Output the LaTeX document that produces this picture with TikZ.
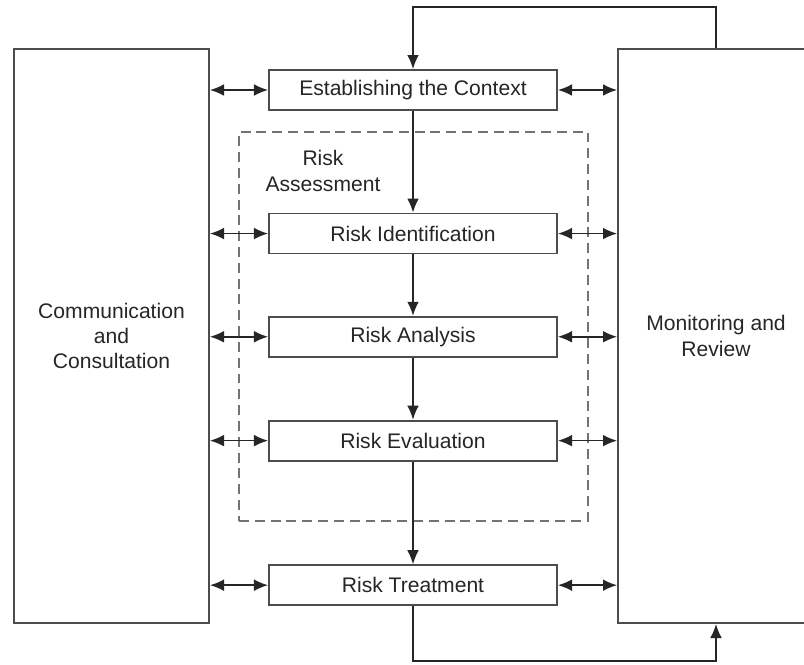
\documentclass[tikz,border=0pt]{standalone}
\usepackage{fontspec}
\setmainfont{Liberation Sans}
\usetikzlibrary{positioning,arrows.meta}

\begin{document}
\begin{tikzpicture}[
x=0.03cm, y=-0.03cm,
font=\fontsize{18pt}{21.6pt}\selectfont,
stage/.style={draw=black!70, line width=1.6pt, fill=white, text=black!85, align=center, minimum width=8.64cm, minimum height=1.2cm, inner sep=0pt},
side/.style={draw=black!70, line width=1.6pt, text=black!85, align=center, minimum height=17.22cm, inner sep=0pt},
arr/.style={-{Latex[length=12pt,width=10pt]}, line width=1.3pt, black!85},
dbl/.style={{Latex[length=12pt,width=10pt]}-{Latex[length=12pt,width=10pt]}, line width=1.3pt, black!85}
]
\useasboundingbox (0,0) rectangle (804,664);

% risk assessment frame
\node[draw=black!55, line width=1.4pt, dash pattern=on 8.5pt off 5pt, minimum width=10.47cm, minimum height=11.67cm, inner sep=0pt] (assess) at (413.5,326.5) {};
\node[text=black!85, align=center] (assesslbl) at (323,171) {Risk\\Assessment};

% process steps
\node[stage] (ctx) at (413,90) {Establishing the Context};
\node[stage, below=3.05cm of ctx] (ident) {Risk Identification};
\node[stage, below=1.84cm of ident] (anal) {Risk Analysis};
\node[stage, below=1.86cm of anal] (eval) {Risk Evaluation};
\node[stage, below=3.08cm of eval] (treat) {Risk Treatment};

% side boxes
\node[side, minimum width=5.85cm] (comm) at (111.5,336) {Communication\\and\\Consultation};
\node[side, minimum width=5.88cm] (mon) at (716,336) {Monitoring and\\Review};

\draw[arr] (ctx) -- (ident);
\draw[arr] (ident) -- (anal);
\draw[arr] (anal) -- (eval);
\draw[arr] (eval) -- (treat);

\foreach \s in {ctx,ident,anal,eval,treat} {
  \draw[dbl] (comm.east |- \s) -- (\s);
  \draw[dbl] (\s) -- (mon.west |- \s);
}

% feedback loops
\coordinate (looptop) at (716,7);
\coordinate (loopbot) at (716,661);
\draw[arr] (mon.north) -- (looptop) -| (ctx.north);
\draw[arr] (treat.south) |- (loopbot) -- (mon.south);
\end{tikzpicture}
\end{document}
